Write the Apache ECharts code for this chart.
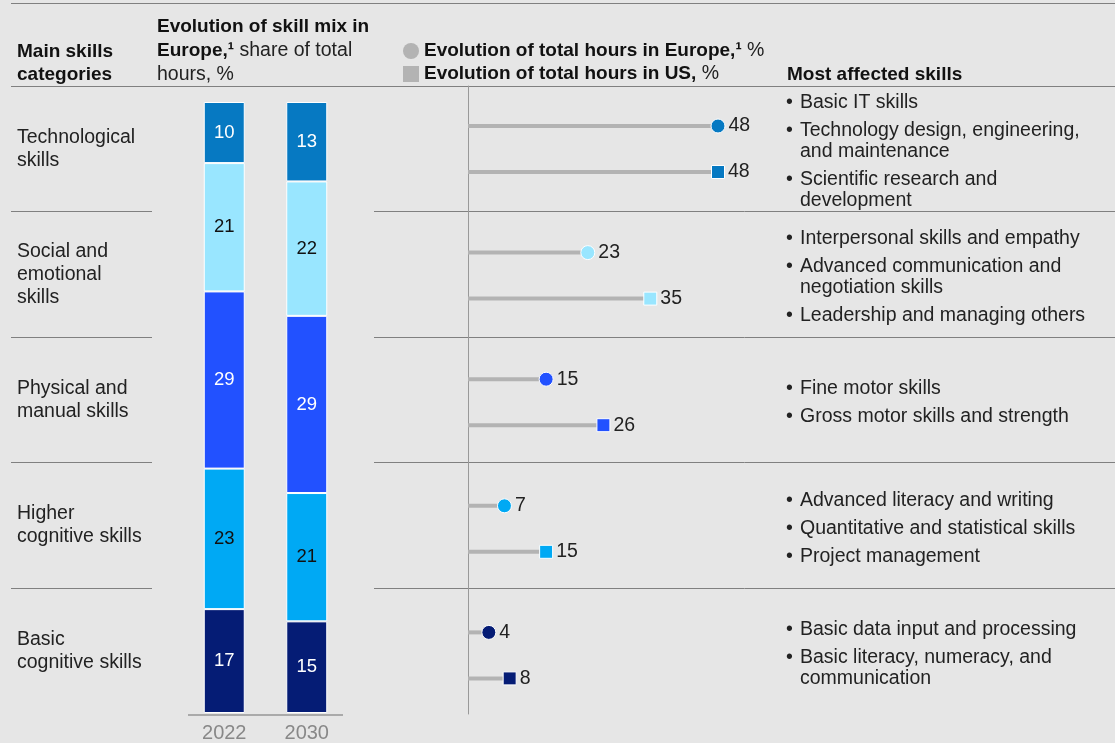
<!DOCTYPE html>
<html>
<head>
<meta charset="utf-8">
<script src="https://cdn.jsdelivr.net/npm/echarts@6/dist/echarts.min.js"></script>
<style>
html,body{margin:0;padding:0;background:#e6e6e6;}
#chart{width:1115px;height:743px;}
</style>
</head>
<body>
<div id="chart"></div>
<script>
// ---------- data ----------
const years = ['2022', '2030'];
const categories = ['Technological skills', 'Social and emotional skills', 'Physical and manual skills', 'Higher cognitive skills', 'Basic cognitive skills'];
const categoryLabels = ['Technological\nskills', 'Social and\nemotional\nskills', 'Physical and\nmanual skills', 'Higher\ncognitive skills', 'Basic\ncognitive skills'];
const mix2022 = [10, 21, 29, 23, 17];
const mix2030 = [13, 22, 29, 21, 15];
const europeHours = [48, 23, 15, 7, 4];
const usHours = [48, 35, 26, 15, 8];
const affectedSkills = [
  [['Basic IT skills'], ['Technology design, engineering,', 'and maintenance'], ['Scientific research and', 'development']],
  [['Interpersonal skills and empathy'], ['Advanced communication and', 'negotiation skills'], ['Leadership and managing others']],
  [['Fine motor skills'], ['Gross motor skills and strength']],
  [['Advanced literacy and writing'], ['Quantitative and statistical skills'], ['Project management']],
  [['Basic data input and processing'], ['Basic literacy, numeracy, and', 'communication']]
];
const colors = ['#0679c2', '#99e6ff', '#2251ff', '#00a9f4', '#051c75'];
const labelColors = ['#ffffff', '#111111', '#ffffff', '#111111', '#ffffff'];

// ---------- helpers ----------
const FONT = '"Liberation Sans", Arial, Helvetica, sans-serif';
const FS = 19.5;   // regular text
const FB = 19;     // bold headings
const TXT = '#222222';
const RULE = '#808080';

function skillText(items) {
  const lines = [];
  items.forEach((item, k) => {
    if (k > 0) lines.push('{g| }');
    item.forEach((line, j) => lines.push((j === 0 ? '{b|•}' : '{b| }') + '{t|' + line + '}'));
  });
  return lines.join('\n');
}

function hline(x1, x2, y) {
  return { type: 'line', shape: { x1: x1, y1: y + 0.5, x2: x2, y2: y + 0.5 }, style: { stroke: RULE, lineWidth: 1 }, silent: true };
}
function htext(x, y, text, bold, extra) {
  return {
    type: 'text', x: x, y: y, silent: true,
    style: Object.assign({
      text: text, fill: bold ? '#111111' : TXT, fontFamily: FONT, fontSize: bold ? FB : FS,
      fontWeight: bold ? 'bold' : 'normal', verticalAlign: 'middle', align: 'left'
    }, extra || {})
  };
}
function noLine() { return { show: false }; }

// ---------- series ----------
const series = [];
for (let i = categories.length - 1; i >= 0; i--) {
  series.push({
    type: 'bar', name: categories[i], stack: 'mix', xAxisIndex: 0, yAxisIndex: 0,
    barWidth: 41, data: [mix2022[i], mix2030[i]],
    itemStyle: { color: colors[i], borderColor: '#ffffff', borderWidth: 1 },
    label: { show: true, position: 'inside', color: labelColors[i], fontSize: 18.5, fontFamily: FONT },
    silent: true
  });
}
series.push({
  type: 'bar', name: 'Europe stem', xAxisIndex: 2, yAxisIndex: 3, barWidth: 4,
  data: europeHours, itemStyle: { color: '#b3b3b3' }, silent: true, z: 2
});
series.push({
  type: 'bar', name: 'US stem', xAxisIndex: 3, yAxisIndex: 4, barWidth: 4,
  data: usHours, itemStyle: { color: '#b3b3b3' }, silent: true, z: 2
});
const markerLabel = { show: true, position: 'right', distance: 3, color: TXT, opacity: 1, fontSize: FS, fontFamily: FONT, formatter: p => p.value[0] };
series.push({
  type: 'scatter', name: 'Europe', xAxisIndex: 2, yAxisIndex: 3, symbol: 'circle', symbolSize: 14,
  data: europeHours.map((v, i) => ({ value: [v, i], itemStyle: { color: colors[i] } })),
  itemStyle: { borderColor: '#ffffff', borderWidth: 1, opacity: 1 },
  label: markerLabel, silent: true, z: 5
});
series.push({
  type: 'scatter', name: 'US', xAxisIndex: 3, yAxisIndex: 4, symbol: 'rect', symbolSize: 13,
  data: usHours.map((v, i) => ({ value: [v, i], itemStyle: { color: colors[i] } })),
  itemStyle: { borderColor: '#ffffff', borderWidth: 1, opacity: 1 },
  label: Object.assign({}, markerLabel), silent: true, z: 5
});

const option = {
  backgroundColor: '#e6e6e6',
  animation: false,
  textStyle: { fontFamily: FONT },
  grid: [
    { left: 183, top: 102, width: 165, height: 612 },   // 0 bars
    { left: 468, top: 86, width: 250, height: 628 },    // 1 lollipop frame + labels
    { left: 468, top: 62.7, width: 250, height: 633 },  // 2 Europe
    { left: 468, top: 108.7, width: 250, height: 633 }  // 3 US
  ],
  xAxis: [
    { gridIndex: 0, type: 'category', data: years, axisLine: noLine(), axisTick: noLine(),
      axisLabel: { color: '#888888', fontSize: 20, margin: 10, fontFamily: FONT } },
    { gridIndex: 1, type: 'value', min: 0, max: 48, show: false },
    { gridIndex: 2, type: 'value', min: 0, max: 48, show: false },
    { gridIndex: 3, type: 'value', min: 0, max: 48, show: false }
  ],
  yAxis: [
    { gridIndex: 0, type: 'value', min: 0, max: 100, show: false },
    { gridIndex: 1, type: 'category', data: categories, inverse: true, position: 'left',
      axisLine: { show: true, lineStyle: { color: '#999999', width: 1 } }, axisTick: noLine(), splitLine: noLine(),
      axisLabel: { align: 'left', margin: 451, color: TXT, fontSize: FS, lineHeight: 23, fontFamily: FONT,
        padding: [6, 0, 0, 0],
        formatter: (v, idx) => categoryLabels[idx] } },
    { gridIndex: 1, type: 'category', data: categories, inverse: true, position: 'right',
      axisLine: noLine(), axisTick: noLine(), splitLine: noLine(),
      axisLabel: { align: 'left', margin: 68, fontFamily: FONT, padding: [6, 0, 0, 0],
        formatter: (v, idx) => skillText(affectedSkills[idx]),
        rich: {
          b: { width: 14, fontSize: FS, lineHeight: 21, color: TXT, fontFamily: FONT },
          t: { fontSize: FS, lineHeight: 21, color: TXT, fontFamily: FONT },
          g: { fontSize: 4, lineHeight: 7 }
        } } },
    { gridIndex: 2, type: 'category', data: categories, inverse: true, show: false },
    { gridIndex: 3, type: 'category', data: categories, inverse: true, show: false }
  ],
  legend: {
    orient: 'vertical', left: 403, top: 41, padding: 0, itemWidth: 16, itemHeight: 16, itemGap: 3,
    selectedMode: false,
    data: [
      { name: 'Europe', icon: 'circle', itemStyle: { color: '#b3b3b3', borderWidth: 0 } },
      { name: 'US', icon: 'rect', itemStyle: { color: '#b3b3b3', borderWidth: 0 } }
    ],
    formatter: name => name === 'Europe'
      ? '{b|Evolution of total hours in Europe,¹}{n| %}'
      : '{b|Evolution of total hours in US,}{n| %}',
    textStyle: {
      rich: {
        b: { fontWeight: 'bold', fontSize: FB, color: '#111111', fontFamily: FONT, lineHeight: 18 },
        n: { fontSize: FS, color: TXT, fontFamily: FONT, lineHeight: 18 }
      }
    }
  },
  graphic: [
    hline(11, 1115, 3),
    hline(11, 1115, 86),
    hline(11, 152, 211), hline(374, 1115, 211),
    hline(11, 152, 337), hline(374, 1115, 337),
    hline(11, 152, 462), hline(374, 1115, 462),
    hline(11, 152, 588), hline(374, 1115, 588),
    htext(17, 51.5, 'Main skills', true),
    htext(17, 75, 'categories', true),
    htext(157, 27, 'Evolution of skill mix in', true),
    htext(157, 51, '{b|Europe,¹}{n| share of total}', false, {
      rich: { b: { fontWeight: 'bold', fontSize: FB, fill: '#111111', fontFamily: FONT }, n: { fontSize: FS, fill: TXT, fontFamily: FONT } } }),
    htext(157, 75, 'hours, %', false),
    htext(787, 75, 'Most affected skills', true),
    // baseline under the stacked bars (layout rule)
    { type: 'line', shape: { x1: 188, y1: 715, x2: 343, y2: 715 }, style: { stroke: '#aaaaaa', lineWidth: 2 }, silent: true }
  ],
  series: series
};

const chart = echarts.init(document.getElementById('chart'), null, { renderer: 'canvas' });
chart.setOption(option);
</script>
</body>
</html>
